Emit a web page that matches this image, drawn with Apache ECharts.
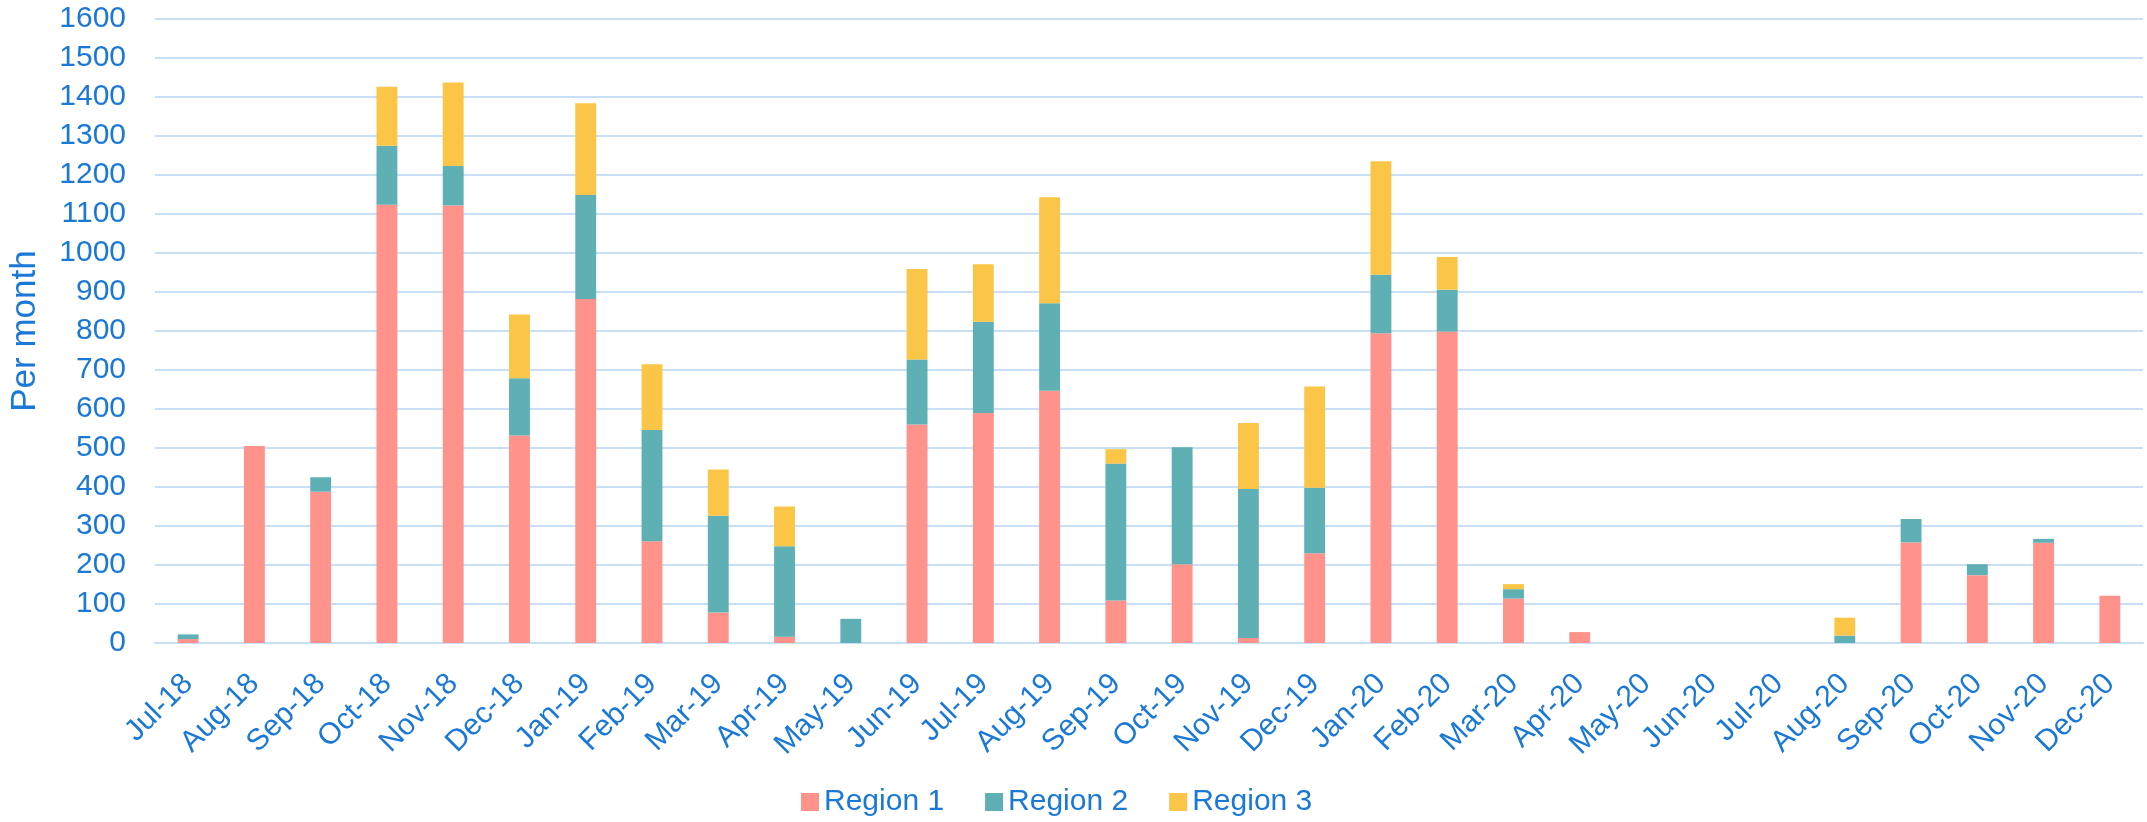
<!DOCTYPE html>
<html>
<head>
<meta charset="utf-8">
<script src="https://cdn.jsdelivr.net/npm/echarts@6/dist/echarts.min.js"></script>
<style>
html,body{margin:0;padding:0;background:#fff;}
#chart{width:2147px;height:822px;}
</style>
</head>
<body>
<div id="chart"></div>
<script>
const categories = ['Jul-18','Aug-18','Sep-18','Oct-18','Nov-18','Dec-18','Jan-19','Feb-19','Mar-19','Apr-19','May-19','Jun-19','Jul-19','Aug-19','Sep-19','Oct-19','Nov-19','Dec-19','Jan-20','Feb-20','Mar-20','Apr-20','May-20','Jun-20','Jul-20','Aug-20','Sep-20','Oct-20','Nov-20','Dec-20'];
const region1 = [10,505,388,1124,1122,532,882,261,78,16,0,560,590,647,109,202,13,230,794,799,114,28,0,0,0,0,258,174,257,121];
const region2 = [12,0,37,151,101,147,267,285,248,232,62,167,234,224,351,300,382,168,150,107,24,0,0,0,0,19,60,28,10,0];
const region3 = [0,0,0,151,214,163,235,169,119,102,0,232,147,272,37,0,169,260,291,84,13,0,0,0,0,46,0,0,0,0];
const seriesNames = ['Region 1','Region 2','Region 3'];
const colors = ['#ff928a','#5eb0b5','#fbc648'];

const textColor = '#1a78d6';
const font = '"Liberation Sans", Arial, sans-serif';
const chart = echarts.init(document.getElementById('chart'), null, {renderer:'canvas'});
const mk = (name, data, color) => ({
  name, type:'bar', stack:'total', data, barWidth:'31.5%',
  itemStyle:{color},
  emphasis:{disabled:true}
});
chart.setOption({
  animation:false,
  textStyle:{fontFamily:font},
  grid:{left:148, right:4, top:19, bottom:179, containLabel:false},
  legend:{
    data:seriesNames, top:782, left:796, itemWidth:18, itemHeight:18, itemGap:41,
    icon:'rect',
    textStyle:{color:textColor, fontSize:30, fontFamily:font}
  },
  xAxis:{
    type:'category', data:categories,
    axisLine:{lineStyle:{color:'#c9dff5', width:2}},
    axisTick:{show:false},
    axisLabel:{color:textColor, fontSize:30, fontFamily:font, rotate:45, margin:36, interval:0}
  },
  yAxis:{
    type:'value', min:0, max:1600, interval:100,
    name:'Per month', nameLocation:'middle', nameRotate:90, nameGap:112,
    nameTextStyle:{color:textColor, fontSize:35, fontFamily:font},
    axisLine:{show:false}, axisTick:{show:false},
    axisLabel:{color:textColor, fontSize:30, fontFamily:font, margin:29, formatter:v => String(v)},
    splitLine:{lineStyle:{color:'#c9dff5', width:2}}
  },
  series:[mk(seriesNames[0],region1,colors[0]), mk(seriesNames[1],region2,colors[1]), mk(seriesNames[2],region3,colors[2])]
});
</script>
</body>
</html>
